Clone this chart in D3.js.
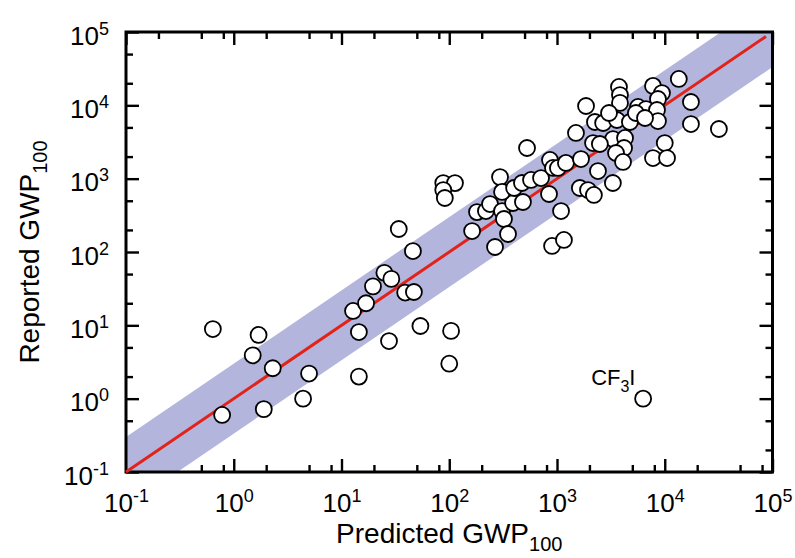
<!DOCTYPE html>
<html><head><meta charset="utf-8">
<script src="https://cdn.jsdelivr.net/npm/d3@7"></script>
<style>
body{margin:0;background:#fff}
text{font-family:"Liberation Sans",Arial,Helvetica,sans-serif;fill:#000}
</style>
</head><body>
<svg id="chart" width="795" height="558"></svg>
<script>
// ---- data ----
const predicted = [0.64,1.7,1.5,2.3,5.0,4.4,1.9,0.78,12.8,14.5,14.5,16.9,19.6,25,29,39,47,27.6,54,104,100,34,46,88,113,88,91,6300,
  181,219,239,309,391,483,322,163,351,266,296,309,400,473,574,711,527,861,918,1020,1210,1670,843,1090,900,1160,1630,1940,2200,3300,2400,
  13500,3760,3840,3840,7780,9420,8650,1860,17500,5650,6700,8470,8650,17500,31800,1500,2250,2680,3600,4750,3040,5400,6560,3310,4280,2160,2500,4190,3530,4100,10000,7780,10500];
const reported = [8.9,7.4,3.9,2.6,2.2,1.0,0.72,0.60,15.7,8.1,2.0,20,34,52,43,28,28.5,6.1,9.8,8.4,3.0,206,103,870,870,700,545,1.0,
  350,362,451,362,466,481,282,193,176,117,1050,660,746,873,960,1020,2620,1800,1400,1400,1640,1850,618,362,121,146,746,700,600,873,1270,
  22900,17800,13800,10800,18400,14700,12200,9800,11100,9500,8900,8640,6100,5560,4760,4200,5930,5740,6310,5930,7860,7860,6720,3470,3590,3060,2970,2620,2240,1690,3060,1910,1910];
const labelIndex = 27;            // the CF3I point
const labelMain = ["CF", "I"];
const labelSub = "3";
const decadeExponents = [-1,0,1,2,3,4,5];
const xMinorMultipliers = [2,5,8];
const yMinorMultipliers = [2,5];
const bandFactor = 3;
const bandExtent = [0.1, 1e5];
const fitExtent = [0.1, 8.7e4];
const xTitle = ["Predicted GWP", "100"];
const yTitle = ["Reported GWP", "100"];

// ---- layout ----
const svg = d3.select("#chart");
const L = 126, R = 772.5, T = 32, B = 472;
const x = d3.scaleLog().domain([0.1, 1e5]).range([L, R]);
const y = d3.scaleLog().domain([0.1, 1e5]).range([B, T]);

const decades = decadeExponents.map(e => Math.pow(10, e));
const xMinor = [], yMinor = [];
decades.slice(0, -1).forEach(d => {
  xMinorMultipliers.forEach(m => xMinor.push(d * m));
  yMinorMultipliers.forEach(m => yMinor.push(d * m));
});

function styleAxis(g) {
  g.select(".domain").remove();
  g.selectAll(".tick line").attr("stroke", "#000").attr("stroke-width", 2.4);
}
function addAxis(axisFn, transform, values, size) {
  const g = svg.append("g").attr("transform", transform)
    .call(axisFn.tickValues(values).tickSizeInner(-size).tickSizeOuter(0).tickFormat(""));
  styleAxis(g);
  return g;
}
// major + minor ticks on all four sides, pointing inward
const gBottom = addAxis(d3.axisBottom(x), `translate(0,${B})`, decades, 13);
addAxis(d3.axisBottom(x), `translate(0,${B})`, xMinor, 7);
addAxis(d3.axisTop(x), `translate(0,${T})`, decades, 13);
addAxis(d3.axisTop(x), `translate(0,${T})`, xMinor, 7);
const gLeft = addAxis(d3.axisLeft(y), `translate(${L},0)`, decades, 13);
addAxis(d3.axisLeft(y), `translate(${L},0)`, yMinor, 7);
addAxis(d3.axisRight(y), `translate(${R},0)`, decades, 13);
addAxis(d3.axisRight(y), `translate(${R},0)`, yMinor, 7);

// tick labels 10^n
const labFont = 26, supFont = 18;
gBottom.selectAll(".tick").each(function(d, i) {
  const t = d3.select(this).append("text")
    .attr("y", 40).attr("text-anchor", "middle").attr("font-size", labFont);
  t.append("tspan").text("10");
  t.append("tspan").attr("font-size", supFont).attr("dy", -10).text(String(decadeExponents[i]));
});
gLeft.selectAll(".tick").each(function(d, i) {
  const t = d3.select(this).append("text")
    .attr("x", -17).attr("y", 12).attr("text-anchor", "end").attr("font-size", labFont);
  t.append("tspan").text("10");
  t.append("tspan").attr("font-size", supFont).attr("dy", -10).text(String(decadeExponents[i]));
});

// clip to plot area
svg.append("clipPath").attr("id", "plotclip")
  .append("rect").attr("x", L).attr("y", T).attr("width", R - L).attr("height", B - T);

// shaded factor band
const band = d3.area()
  .x(d => x(d))
  .y0(d => y(d / bandFactor))
  .y1(d => y(d * bandFactor));
svg.append("path").datum(bandExtent)
  .attr("clip-path", "url(#plotclip)")
  .attr("d", band).attr("fill", "#b3b5dd");

// frame
svg.append("rect").attr("x", L).attr("y", T).attr("width", R - L).attr("height", B - T)
  .attr("fill", "none").attr("stroke", "#000").attr("stroke-width", 3);

// 1:1 line
svg.append("path").datum(fitExtent)
  .attr("d", d3.line().x(d => x(d)).y(d => y(d)))
  .attr("fill", "none").attr("stroke", "#e2231a").attr("stroke-width", 3);

// points
const pts = predicted.map((p, i) => ({p, r: reported[i]}));
svg.append("g").selectAll("circle").data(pts).join("circle")
  .attr("cx", d => x(d.p)).attr("cy", d => y(d.r)).attr("r", 8)
  .attr("fill", "#fff").attr("stroke", "#000").attr("stroke-width", 1.8);

// CF3I annotation
const lp = pts[labelIndex];
const ann = svg.append("text")
  .attr("x", x(lp.p) - 52).attr("y", y(lp.r) - 14).attr("font-size", 22);
ann.append("tspan").text(labelMain[0]);
ann.append("tspan").attr("font-size", 16).attr("dy", 7).text(labelSub);
ann.append("tspan").attr("dy", -7).text(labelMain[1]);

// axis titles
const xt = svg.append("text").attr("x", (L + R) / 2).attr("y", 543)
  .attr("text-anchor", "middle").attr("font-size", 28);
xt.append("tspan").text(xTitle[0]);
xt.append("tspan").attr("font-size", 20).attr("dy", 8).text(xTitle[1]);

const yt = svg.append("text").attr("transform", `translate(39,${(T + B) / 2}) rotate(-90)`)
  .attr("text-anchor", "middle").attr("font-size", 28);
yt.append("tspan").text(yTitle[0]);
yt.append("tspan").attr("font-size", 20).attr("dy", 8).text(yTitle[1]);
</script>
</body></html>
